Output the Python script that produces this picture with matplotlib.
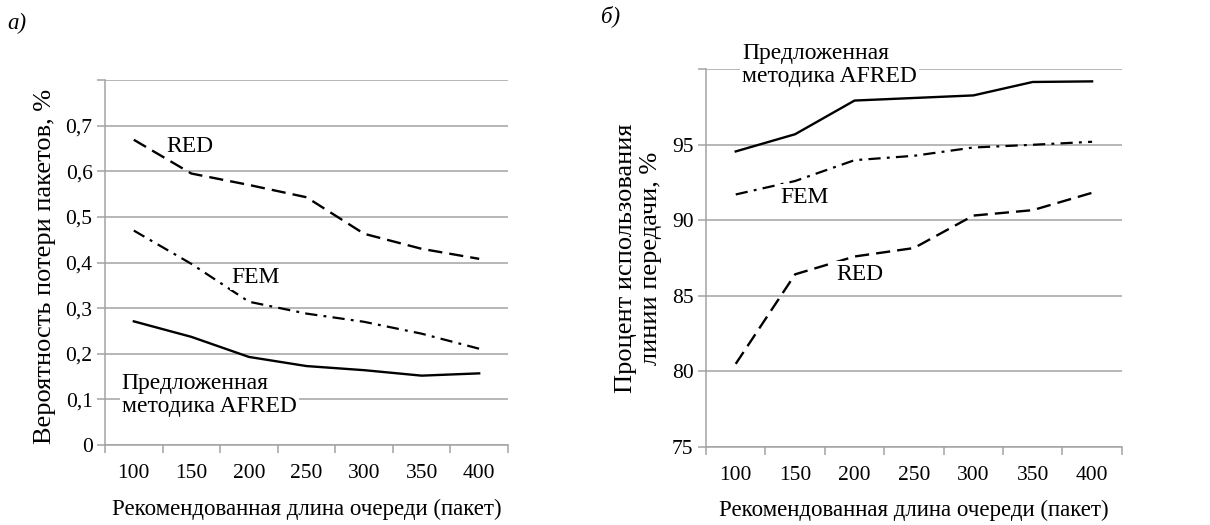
import numpy as np
import matplotlib
matplotlib.use('Agg')
import matplotlib.pyplot as plt
import matplotlib.ticker as mticker

plt.rcParams['font.family'] = ['Liberation Serif', 'DejaVu Serif']
plt.rcParams['font.size'] = 15

# ---------------------------------------------------------------------------
# Данные
# ---------------------------------------------------------------------------
QUEUE = ['100', '150', '200', '250', '300', '350', '400']

# а) вероятность потери пакетов, %
LOSS_RED = [0.669, 0.595, 0.570, 0.543, 0.463, 0.430, 0.408]
LOSS_FEM = [0.470, 0.397, 0.314, 0.288, 0.270, 0.244, 0.211]
LOSS_AFRED = [0.271, 0.237, 0.193, 0.173, 0.164, 0.152, 0.157]
LOSS_TICKS = [0, 0.1, 0.2, 0.3, 0.4, 0.5, 0.6, 0.7]

# б) процент использования линии, %
UTIL_AFRED = [94.56, 95.70, 97.93, 98.10, 98.27, 99.16, 99.20]
UTIL_FEM = [91.71, 92.60, 93.98, 94.27, 94.82, 95.00, 95.20]
UTIL_RED = [80.49, 86.42, 87.60, 88.16, 90.31, 90.67, 91.82]
UTIL_TICKS = [75, 80, 85, 90, 95]

GRID = '#a3a3a3'
TICK_FS = 15.5
XLBL_FS = 16.5
YLBL_FS = 19
IN_FS = 17
BOX = dict(facecolor='white', edgecolor='none', pad=1.5)
DASH = (0, (6, 3))
DASHDOT = (0, (5.5, 2.8, 1.3, 2.8))


def style_axes(ax, n, label_y):
    x = np.arange(n)
    ax.set_xlim(-0.5, n - 0.5)
    ax.set_xticks(x)
    ax.set_xticklabels(QUEUE)
    ax.set_xticks(np.arange(n + 1) - 0.5, minor=True)
    ax.tick_params(axis='x', which='major', length=0, pad=14, labelsize=TICK_FS)
    ax.tick_params(axis='x', which='minor', length=6, color=GRID, width=1.1)
    ax.tick_params(axis='y', length=6, color=GRID, width=1.1, labelsize=TICK_FS, pad=3)
    for s in ['top', 'right']:
        ax.spines[s].set_visible(False)
    for s in ['left', 'bottom']:
        ax.spines[s].set_color(GRID)
        ax.spines[s].set_linewidth(1.1)
    ax.grid(axis='y', color=GRID, linewidth=1.1)
    ax.set_axisbelow(True)
    ax.set_xlabel('Рекомендованная длина очереди (пакет)', fontsize=XLBL_FS)
    ax.xaxis.set_label_coords(0.5, label_y)


fig = plt.figure(figsize=(12.1, 5.25), dpi=100)
x = np.arange(len(QUEUE))

# --- а) ---
ax = fig.add_axes([0.0868, 0.1524, 0.333, 0.6952])
ax.plot(x, LOSS_RED, color='black', linewidth=1.7, linestyle=DASH)
ax.plot(x, LOSS_FEM, color='black', linewidth=1.6, linestyle=DASHDOT)
ax.plot(x, LOSS_AFRED, color='black', linewidth=1.7)
style_axes(ax, len(QUEUE), -0.148)
ax.set_ylim(0, 0.8)
ax.set_yticks(LOSS_TICKS + [0.8])
ax.yaxis.set_major_formatter(mticker.FuncFormatter(
    lambda v, _: '' if v > 0.75 else ('0' if v == 0 else f'{v:.1f}'.replace('.', ','))))
ax.set_ylabel('Вероятность потери пакетов, %', fontsize=YLBL_FS)
ax.yaxis.set_label_coords(-0.122, 0.49)
ax.text(0.98, 0.654, 'RED', ha='center', va='center', fontsize=IN_FS, bbox=BOX)
ax.text(2.12, 0.368, 'FEM', ha='center', va='center', fontsize=IN_FS, bbox=BOX)
ax.text(-0.21, 0.109, 'Предложенная\nметодика AFRED', ha='left', va='center',
        fontsize=IN_FS, linespacing=1.15, bbox=BOX)
fig.text(0.006, 0.975, 'а)', style='italic', fontsize=XLBL_FS, va='top')

# --- б) ---
ax = fig.add_axes([0.5835, 0.1491, 0.3436, 0.7189])
ax.plot(x, UTIL_AFRED, color='black', linewidth=1.7)
ax.plot(x, UTIL_FEM, color='black', linewidth=1.6, linestyle=DASHDOT)
ax.plot(x, UTIL_RED, color='black', linewidth=1.7, linestyle=DASH)
style_axes(ax, len(QUEUE), -0.14)
ax.set_ylim(75, 100)
ax.set_yticks(UTIL_TICKS + [100])
ax.yaxis.set_major_formatter(mticker.FuncFormatter(
    lambda v, _: '' if v > 97 else f'{v:.0f}'))
ax.set_ylabel('Процент использования\nлинии передачи, %', fontsize=YLBL_FS,
              linespacing=1.2)
ax.yaxis.set_label_coords(-0.105, 0.5)
ax.text(0.11, 100.28, 'Предложенная\nметодика AFRED', ha='left', va='center',
        fontsize=IN_FS, linespacing=1.15, bbox=BOX, clip_on=False)
ax.text(1.167, 91.54, 'FEM', ha='center', va='center', fontsize=IN_FS, bbox=BOX)
ax.text(2.09, 86.44, 'RED', ha='center', va='center', fontsize=IN_FS, bbox=BOX)
fig.text(0.497, 0.99, 'б)', style='italic', fontsize=XLBL_FS, va='top')

fig.savefig('out.png', dpi=100)
